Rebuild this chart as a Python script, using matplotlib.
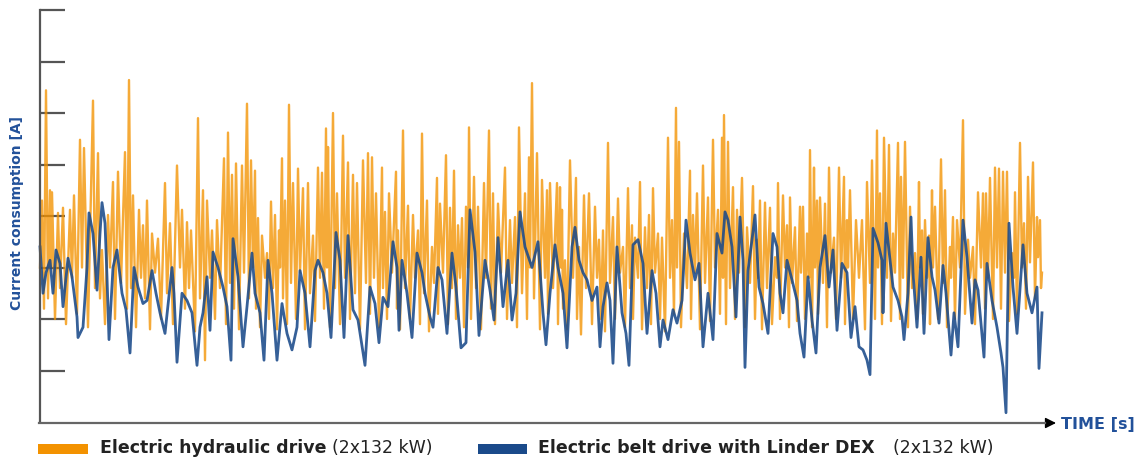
import numpy as np
import matplotlib
matplotlib.use('Agg')
import matplotlib.pyplot as plt
from matplotlib.patches import Rectangle
from matplotlib.lines import Line2D

# 数据：时间 (s) 与电流 (A)
orange_t = [0, 2, 4, 6, 8, 10, 11, 12, 15, 18, 20, 23, 26, 30, 32, 34, 37, 40, 42, 44,
            48, 53, 55, 58, 60, 62, 65, 68, 70, 73, 75, 78, 81, 85, 87, 89, 91, 93, 96, 99,
            101, 103, 105, 107, 110, 112, 115, 118, 121, 125, 127, 130, 133, 137, 140, 142, 145, 147, 149, 151,
            155, 158, 160, 163, 165, 167, 170, 172, 175, 177, 180, 184, 186, 188, 190, 192, 194, 196, 199, 202,
            204, 207, 209, 211, 213, 215, 216, 218, 220, 222, 225, 227, 229, 231, 233, 235, 237, 239, 240, 242,
            243, 245, 247, 249, 251, 253, 256, 258, 260, 263, 265, 268, 270, 273, 275, 278, 280, 282, 284, 286,
            287, 288, 290, 293, 295, 297, 300, 303, 305, 308, 310, 313, 315, 317, 320, 323, 326, 328, 330, 332,
            334, 336, 339, 342, 343, 345, 347, 349, 352, 356, 357, 358, 360, 363, 365, 368, 370, 373, 375, 378,
            380, 382, 384, 387, 389, 392, 394, 397, 398, 400, 403, 406, 408, 410, 412, 414, 416, 418, 420, 422,
            424, 426, 428, 429, 431, 434, 436, 438, 441, 444, 446, 449, 451, 453, 455, 458, 461, 465, 467, 470,
            472, 475, 477, 479, 482, 485, 487, 489, 490, 492, 494, 497, 500, 502, 505, 507, 508, 510, 513, 517,
            518, 520, 521, 522, 523, 525, 527, 530, 533, 536, 537, 539, 541, 544, 546, 549, 552, 555, 557, 559,
            561, 563, 565, 568, 570, 573, 575, 578, 580, 583, 585, 588, 590, 592, 593, 595, 598, 600, 602, 605,
            607, 609, 611, 613, 615, 618, 620, 622, 625, 628, 630, 632, 634, 636, 637, 639, 641, 644, 647, 650,
            651, 653, 655, 657, 660, 663, 665, 668, 670, 673, 675, 678, 680, 682, 683, 684, 686, 688, 690, 693,
            695, 697, 699, 702, 705, 707, 710, 713, 715, 717, 718, 720, 722, 725, 727, 730, 732, 735, 737, 738,
            740, 743, 745, 747, 749, 750, 752, 755, 757, 760, 761, 763, 765, 767, 769, 770, 772, 774, 775, 777,
            778, 780, 783, 785, 787, 789, 791, 794, 796, 799, 801, 804, 805, 807, 808, 810, 813, 816, 819, 822,
            825, 827, 830, 832, 835, 837, 838, 840, 842, 844, 847, 849, 851, 853, 855, 858, 860, 861, 863, 865,
            868, 870, 872, 875, 877, 879, 880, 882, 883, 885, 887, 889, 890, 892, 893, 895, 898, 901, 903, 905,
            907, 910, 911, 913, 915, 917, 920, 923, 925, 928, 930, 933, 935, 938, 941, 943, 945, 946, 948, 950,
            953, 955, 957, 959, 961, 963, 965, 967, 969, 972, 974, 975, 977, 980, 982, 984, 986, 988, 990, 993,
            995, 997, 998, 1000, 1001, 1002]
orange_a = [150, 215, 110, 322, 120, 225, 150, 223, 100, 203, 130, 208, 95, 206, 140, 220, 105, 274, 150, 266,
            92, 312, 130, 261, 120, 167, 95, 201, 150, 233, 100, 243, 135, 262, 110, 332, 130, 220, 92, 206,
            140, 191, 120, 215, 90, 183, 145, 178, 100, 232, 125, 193, 95, 249, 150, 206, 110, 194, 130, 186,
            88, 295, 120, 225, 60, 215, 140, 186, 100, 196, 130, 256, 95, 281, 135, 240, 110, 251, 90, 249,
            145, 309, 120, 254, 150, 244, 110, 198, 92, 181, 140, 164, 100, 214, 130, 201, 90, 186, 150, 256,
            120, 215, 95, 308, 135, 232, 100, 246, 145, 227, 90, 232, 125, 181, 98, 247, 140, 242, 110, 285,
            150, 267, 92, 300, 130, 222, 95, 278, 140, 252, 100, 240, 125, 232, 90, 254, 135, 261, 105, 257,
            140, 222, 92, 247, 130, 204, 100, 222, 145, 243, 110, 186, 90, 283, 130, 210, 100, 201, 140, 186,
            95, 280, 125, 215, 88, 170, 135, 237, 105, 212, 145, 259, 95, 208, 130, 244, 100, 191, 140, 198,
            92, 209, 150, 286, 100, 238, 130, 209, 90, 232, 140, 283, 110, 222, 95, 212, 145, 247, 100, 196,
            135, 199, 92, 286, 125, 222, 100, 257, 150, 329, 120, 261, 90, 235, 140, 225, 105, 232, 130, 232,
            95, 228, 150, 206, 110, 157, 90, 254, 140, 237, 100, 170, 85, 220, 130, 222, 95, 209, 140, 177,
            100, 186, 88, 271, 135, 199, 100, 217, 145, 170, 92, 227, 130, 191, 100, 179, 140, 233, 90, 189,
            130, 201, 95, 227, 145, 183, 100, 179, 88, 276, 140, 196, 105, 305, 150, 272, 92, 183, 130, 244,
            100, 201, 145, 222, 90, 249, 135, 218, 98, 274, 150, 206, 105, 276, 140, 298, 95, 272, 130, 228,
            100, 206, 145, 237, 92, 189, 135, 229, 100, 177, 140, 215, 90, 213, 130, 208, 95, 160, 140, 232,
            100, 220, 150, 191, 92, 218, 135, 189, 98, 209, 145, 209, 100, 183, 140, 264, 92, 247, 150, 215,
            105, 218, 135, 212, 92, 247, 145, 179, 100, 247, 140, 238, 95, 196, 150, 225, 100, 196, 140, 196,
            90, 233, 135, 254, 100, 283, 150, 222, 95, 276, 140, 269, 98, 183, 145, 271, 100, 238, 140, 272,
            92, 209, 130, 164, 100, 233, 150, 186, 105, 196, 140, 181, 95, 225, 150, 209, 100, 255, 135, 225,
            92, 170, 140, 199, 100, 196, 150, 293, 105, 177, 140, 170, 95, 223, 150, 222, 110, 222, 140, 237,
            100, 247, 150, 246, 110, 243, 145, 243, 98, 164, 140, 223, 105, 271, 150, 193, 110, 238, 155, 252,
            120, 199, 160, 196, 130, 145]

blue_t = [0, 3, 6, 10, 13, 16, 20, 23, 28, 32, 37, 38, 43, 47, 49, 53, 57, 60, 62, 65,
          67, 69, 73, 77, 82, 86, 90, 94, 98, 103, 107, 112, 116, 120, 125, 132, 134, 137, 142, 147,
          152, 157, 160, 163, 167, 170, 173, 178, 183, 187, 191, 193, 198, 203, 207, 212, 215, 220, 224, 228,
          232, 237, 242, 247, 252, 257, 260, 265, 270, 275, 278, 283, 287, 291, 296, 300, 304, 308, 313, 318,
          325, 330, 335, 339, 343, 348, 353, 357, 359, 362, 367, 372, 377, 382, 385, 390, 393, 398, 402, 407,
          412, 416, 421, 426, 430, 435, 439, 445, 450, 454, 458, 463, 468, 472, 476, 480, 485, 492, 498, 503,
          506, 510, 515, 518, 523, 527, 532, 535, 539, 543, 547, 552, 557, 560, 563, 567, 570, 573, 577, 582,
          586, 589, 593, 598, 603, 607, 612, 616, 620, 623, 628, 633, 637, 642, 646, 650, 655, 659, 663, 668,
          673, 677, 682, 685, 688, 692, 696, 700, 703, 705, 708, 712, 715, 719, 723, 728, 733, 737, 740, 743,
          747, 752, 757, 760, 764, 768, 772, 776, 780, 785, 789, 793, 797, 802, 807, 811, 815, 819, 823, 827,
          830, 833, 838, 842, 843, 846, 850, 853, 858, 862, 864, 868, 871, 873, 877, 881, 884, 888, 892, 895,
          899, 903, 906, 911, 914, 918, 923, 927, 932, 935, 938, 944, 947, 952, 957, 961, 963, 966, 969, 973,
          977, 983, 987, 992, 997, 999, 1002]
blue_a = [170, 125, 145, 157, 125, 167, 154, 112, 159, 141, 102, 82, 92, 150, 203, 183, 128, 183, 213, 193,
          141, 80, 150, 167, 125, 109, 67, 150, 131, 115, 118, 147, 125, 106, 86, 150, 125, 58, 125, 118,
          106, 55, 92, 106, 141, 89, 165, 150, 131, 112, 60, 178, 141, 73, 112, 164, 125, 106, 60, 157,
          125, 60, 115, 86, 70, 92, 147, 125, 73, 147, 157, 145, 125, 82, 184, 157, 82, 181, 109, 99,
          55, 131, 115, 77, 121, 112, 175, 150, 89, 157, 125, 82, 164, 145, 125, 102, 92, 150, 138, 86,
          164, 131, 72, 77, 206, 165, 84, 157, 128, 99, 179, 112, 157, 99, 125, 204, 170, 150, 175, 106,
          75, 125, 172, 150, 125, 72, 170, 189, 157, 145, 138, 118, 131, 73, 112, 135, 118, 57, 170, 106,
          86, 55, 172, 177, 154, 86, 147, 125, 73, 99, 80, 109, 96, 118, 196, 164, 138, 154, 73, 125,
          80, 183, 164, 204, 196, 170, 102, 199, 157, 53, 147, 177, 201, 131, 115, 86, 183, 170, 125, 106,
          157, 138, 118, 86, 63, 141, 99, 67, 150, 181, 131, 167, 89, 154, 145, 82, 112, 73, 70, 60,
          46, 188, 174, 157, 106, 193, 157, 131, 118, 102, 80, 125, 199, 145, 92, 160, 86, 179, 141, 128,
          96, 152, 125, 65, 106, 73, 196, 160, 96, 138, 128, 63, 154, 118, 92, 67, 53, 9, 193, 131,
          86, 172, 125, 106, 131, 52, 106]

y_ticks = [50, 100, 150, 200, 250, 300, 350, 400]

W, H = 1141, 463
orange = '#F39200'
blue = '#1A4A8A'
text_blue = '#22519A'

fig = plt.figure(figsize=(W / 100, H / 100), dpi=100)
ax = fig.add_axes([40 / W, 41 / H, 1003 / W, 412 / H])

ax.plot(orange_t, orange_a, color=orange, lw=1.7, alpha=0.78, clip_on=False)
ax.plot(blue_t, blue_a, color=blue, lw=2.0, alpha=0.88, clip_on=False)

ax.set_xlim(0, 1003)
ax.set_ylim(0, 400)
ax.set_xticks([])
ax.set_yticks(y_ticks)
ax.tick_params(axis='y', direction='in', length=18, width=1.6, color='#555555', labelleft=False)
for s in ['top', 'right', 'bottom']:
    ax.spines[s].set_visible(False)
ax.spines['left'].set_color('#555555')
ax.spines['left'].set_linewidth(1.6)

# x 轴：灰色线 + 黑色箭头
fig.add_artist(Line2D([39 / W, 1045 / W], [40 / H, 40 / H], transform=fig.transFigure,
                      color='#666666', lw=1.6))
ax.annotate('', xy=(1056, 40), xytext=(1040, 40), xycoords='figure pixels', textcoords='figure pixels',
            arrowprops=dict(arrowstyle='-|>', color='black', lw=1.0, mutation_scale=16,
                            shrinkA=0, shrinkB=0))

fig.text(17 / W, 1 - 213 / H, 'Current consumption [A]', rotation=90, color=text_blue,
         fontweight='bold', fontsize=10, ha='center', va='center')
fig.text(1061 / W, 1 - 424 / H, 'TIME [s]', color=text_blue, fontweight='bold',
         fontsize=11.5, ha='left', va='center')

# 图例
fig.add_artist(Rectangle((38 / W, 1 - 454 / H), 50 / W, 10 / H, transform=fig.transFigure,
                         color=orange, lw=0))
fig.text(100 / W, 1 - 448 / H, 'Electric hydraulic drive', fontweight='bold', fontsize=12.5,
         color='#222222', va='center')
fig.text(332 / W, 1 - 448 / H, '(2x132 kW)', fontsize=12.5, color='#222222', va='center')
fig.add_artist(Rectangle((478 / W, 1 - 454 / H), 49 / W, 10 / H, transform=fig.transFigure,
                         color=blue, lw=0))
fig.text(538 / W, 1 - 448 / H, 'Electric belt drive with Linder DEX', fontweight='bold',
         fontsize=12.5, color='#222222', va='center')
fig.text(893 / W, 1 - 448 / H, '(2x132 kW)', fontsize=12.5, color='#222222', va='center')

fig.savefig('out.png', dpi=100)
